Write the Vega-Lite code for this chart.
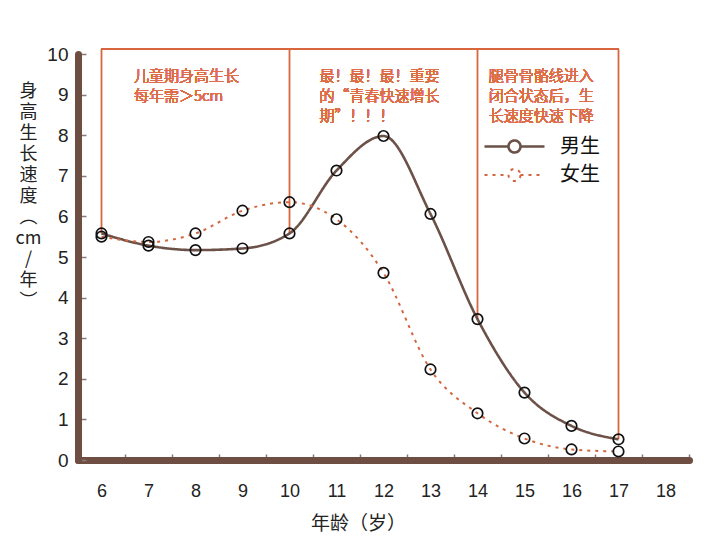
{
  "$schema": "https://vega.github.io/schema/vega-lite/v6.json",
  "autosize": "none",
  "padding": {"left": 78, "top": 54, "right": 23, "bottom": 87},
  "width": 611,
  "height": 406,
  "background": "white",
  "config": {
    "view": {"stroke": null},
    "font": "Noto Sans CJK SC"
  },
  "data": {
    "values": [
      {"age": 6, "sex": "男生", "v": 5.58},
      {"age": 7, "sex": "男生", "v": 5.28},
      {"age": 8, "sex": "男生", "v": 5.17},
      {"age": 9, "sex": "男生", "v": 5.21},
      {"age": 10, "sex": "男生", "v": 5.58},
      {"age": 11, "sex": "男生", "v": 7.13},
      {"age": 12, "sex": "男生", "v": 7.98},
      {"age": 13, "sex": "男生", "v": 6.06},
      {"age": 14, "sex": "男生", "v": 3.47},
      {"age": 15, "sex": "男生", "v": 1.66},
      {"age": 16, "sex": "男生", "v": 0.84},
      {"age": 17, "sex": "男生", "v": 0.51},
      {"age": 6, "sex": "女生", "v": 5.5},
      {"age": 7, "sex": "女生", "v": 5.37},
      {"age": 8, "sex": "女生", "v": 5.58},
      {"age": 9, "sex": "女生", "v": 6.14},
      {"age": 10, "sex": "女生", "v": 6.35},
      {"age": 11, "sex": "女生", "v": 5.93},
      {"age": 12, "sex": "女生", "v": 4.61},
      {"age": 13, "sex": "女生", "v": 2.23},
      {"age": 14, "sex": "女生", "v": 1.15},
      {"age": 15, "sex": "女生", "v": 0.53},
      {"age": 16, "sex": "女生", "v": 0.26},
      {"age": 17, "sex": "女生", "v": 0.21}
    ]
  },
  "encoding": {
    "x": {
      "field": "age", "type": "quantitative",
      "scale": {"domain": [5.5, 18.5], "nice": false, "zero": false},
      "axis": {
        "values": [6, 7, 8, 9, 10, 11, 12, 13, 14, 15, 16, 17, 18],
        "grid": false,
        "domainColor": "#6e4d43", "domainWidth": 7, "domainCap": "round",
        "tickColor": "#8a7a74", "tickSize": -6, "tickWidth": 1.5,
        "tickOffset": 23.5, "labelOffset": -23.5,
        "labelFont": "Liberation Sans", "labelFontSize": 18, "labelColor": "#222",
        "labelPadding": 28,
        "title": "年龄（岁）",
        "titleFont": "Noto Sans CJK SC", "titleFontSize": 19, "titleFontWeight": "normal",
        "titleColor": "#222", "titleX": 280, "titleY": 63, "titleBaseline": "middle"
      }
    },
    "y": {
      "field": "v", "type": "quantitative",
      "scale": {"domain": [0, 10], "nice": false},
      "axis": {
        "values": [0, 1, 2, 3, 4, 5, 6, 7, 8, 9, 10],
        "grid": false,
        "domainColor": "#6e4d43", "domainWidth": 7, "domainCap": "round",
        "tickColor": "#8a7a74", "tickSize": -8, "tickWidth": 1.5,
        "labelFont": "Liberation Sans", "labelFontSize": 19, "labelColor": "#222",
        "labelPadding": 18,
        "title": ["身", "高", "生", "长", "速", "度", "︵", "cm", "/", "年", "︶"],
        "titleFont": "Noto Sans CJK SC", "titleFontSize": 18, "titleFontWeight": "normal",
        "titleColor": "#222", "titleAngle": 0, "titleAlign": "center", "titleBaseline": "top",
        "titleLineHeight": 21, "titleX": -50, "titleY": 28
      }
    }
  },
  "layer": [
    {
      "transform": [{"filter": "datum.sex == '男生' && indexof([6, 10, 14, 17], datum.age) >= 0"}],
      "mark": {"type": "rule", "color": "#d9663f", "strokeWidth": 1.8},
      "encoding": {"y2": {"datum": 10.12}}
    },
    {
      "mark": {"type": "rule", "color": "#d9663f", "strokeWidth": 1.8},
      "encoding": {
        "x": {"datum": 6}, "x2": {"datum": 17},
        "y": {"datum": 10.12}
      }
    },
    {
      "mark": {"type": "line", "interpolate": "monotone"},
      "encoding": {
        "color": {
          "field": "sex", "type": "nominal",
          "scale": {"domain": ["男生", "女生"], "range": ["#6b5148", "#d4663f"]},
          "legend": {
            "title": null, "orient": "none", "legendX": 425, "legendY": 81,
            "symbolType": "M-3,0H-0.6M0.6,0H3M0.6,0A0.6,0.6 0 1 1 -0.6,0A0.6,0.6 0 1 1 0.6,0",
            "symbolSize": 400, "symbolStrokeWidth": 2.5,
            "labelFont": "Noto Sans CJK SC", "labelFontSize": 20, "labelColor": "#111",
            "labelOffset": 34, "rowPadding": 6
          }
        },
        "strokeDash": {
          "field": "sex", "type": "nominal",
          "scale": {"domain": ["男生", "女生"], "range": [[1, 0], [3, 5]]}
        },
        "strokeWidth": {
          "field": "sex", "type": "nominal",
          "scale": {"domain": ["男生", "女生"], "range": [2.6, 2]},
          "legend": null
        }
      }
    },
    {
      "mark": {"type": "point", "shape": "circle", "filled": false, "size": 110, "stroke": "#111", "strokeWidth": 1.7, "opacity": 1}
    },
    {
      "mark": {"type": "text", "align": "left", "baseline": "top", "font": "Noto Sans CJK SC", "fontWeight": 300, "fontSize": 15, "lineHeight": 20, "color": "#dd6e48"},
      "encoding": {
        "x": {"datum": 6.69}, "y": {"datum": 9.62},
        "text": {"value": ["儿童期身高生长", "每年需＞5cm"]}
      }
    },
    {
      "mark": {"type": "text", "align": "left", "baseline": "top", "font": "Noto Sans CJK SC", "fontWeight": 300, "fontSize": 15, "lineHeight": 20, "color": "#dd6e48"},
      "encoding": {
        "x": {"datum": 10.64}, "y": {"datum": 9.62},
        "text": {"value": ["最！最！最！重要", "的“青春快速增长", "期”！！！"]}
      }
    },
    {
      "mark": {"type": "text", "align": "left", "baseline": "top", "font": "Noto Sans CJK SC", "fontWeight": 300, "fontSize": 15, "lineHeight": 20, "color": "#dd6e48"},
      "encoding": {
        "x": {"datum": 14.24}, "y": {"datum": 9.62},
        "text": {"value": ["腿骨骨骼线进入", "闭合状态后，生", "长速度快速下降"]}
      }
    }
  ]
}
